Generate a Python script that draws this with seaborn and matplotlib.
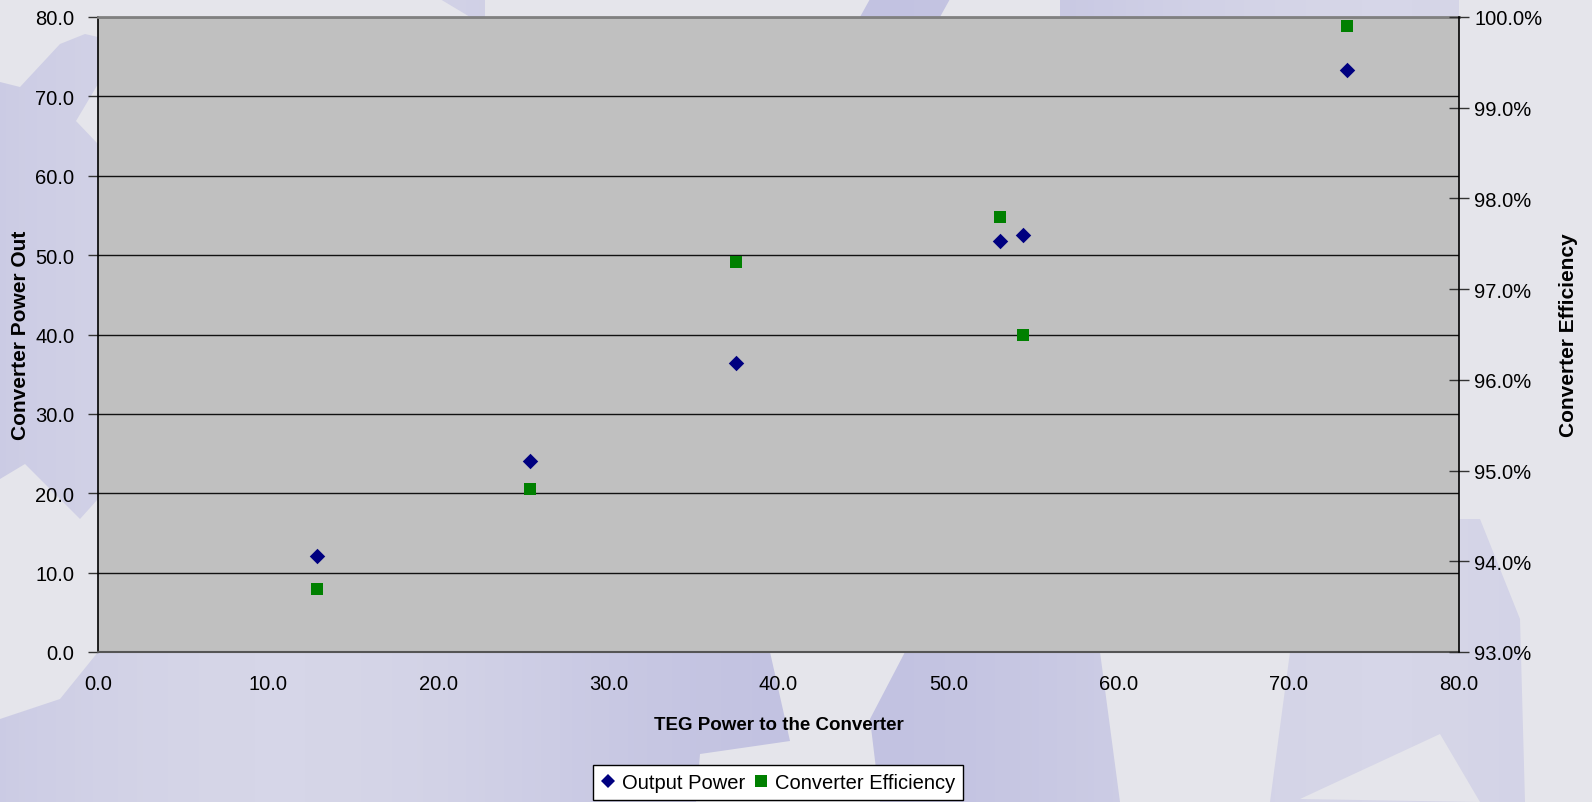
import matplotlib
matplotlib.use("Agg")
import matplotlib.pyplot as plt
import seaborn as sns
import numpy as np
from matplotlib.patches import Polygon
from matplotlib.lines import Line2D
from matplotlib.colors import LinearSegmentedColormap
from matplotlib.ticker import FuncFormatter, MultipleLocator

# Converter test points
teg_power_in = [12.9, 25.4, 37.5, 53.0, 54.4, 73.4]        # W into the converter
output_power = [12.1, 24.1, 36.4, 51.8, 52.5, 73.3]        # W out of the converter
efficiency_pct = [93.7, 94.8, 97.3, 97.8, 96.5, 99.9]      # converter efficiency, %

series_names = ["Output Power", "Converter Efficiency"]
x_label = "TEG Power to the Converter"
y_label_left = "Converter Power Out"
y_label_right = "Converter Efficiency"

NAVY = "#000080"
GREEN = "#008000"
PALE = "#e5e5eb"

sns.set_style("white")
plt.rcParams["font.family"] = ["Liberation Sans", "DejaVu Sans"]
plt.rcParams.update({"text.color": "black", "axes.labelcolor": "black",
                     "xtick.color": "black", "ytick.color": "black"})

W, H = 1592, 803
fig = plt.figure(figsize=(W / 100, H / 100), dpi=100)

# decorative slide backdrop
bg = fig.add_axes([0, 0, 1, 1], zorder=-10)
xx = np.linspace(0, 1, 256)
grad = np.outer(np.ones(64), 0.5 + 0.5 * np.sin(xx * 9.0))
cmap = LinearSegmentedColormap.from_list("bgc", ["#c2c2e1", "#d6d6e8"])
bg.imshow(grad, extent=[0, W, H, 0], aspect="auto", cmap=cmap, zorder=0)
pale_shapes = [
    [(0, 0), (98, 0), (98, 38), (85, 35), (60, 45), (20, 88), (0, 83)],
    [(76, 122), (98, 85), (98, 145)],
    [(0, 480), (25, 465), (80, 520), (98, 500), (98, 653), (60, 700), (0, 720)],
    [(98, 0), (440, 0), (470, 18), (98, 18)],
    [(485, 0), (870, 0), (860, 18), (485, 18)],
    [(950, 0), (1060, 0), (1060, 18), (940, 18)],
    [(720, 653), (770, 653), (790, 742), (700, 755), (696, 803), (880, 803), (870, 720), (905, 653)],
    [(1100, 653), (1290, 653), (1270, 803), (1120, 803)],
    [(1300, 800), (1440, 735), (1480, 803)],
    [(1459, 0), (1592, 0), (1592, 803), (1525, 803), (1520, 620), (1480, 520), (1459, 520)],
]
for pts in pale_shapes:
    bg.add_patch(Polygon(pts, closed=True, fc=PALE, ec="none", zorder=1))
bg.set_xlim(0, W)
bg.set_ylim(H, 0)
bg.axis("off")

# main plot area
ax = fig.add_axes([98 / W, 1 - 653 / H, (1459 - 98) / W, (653 - 18) / H])
ax.set_facecolor("#c0c0c0")
ax2 = ax.twinx()

sns.scatterplot(x=teg_power_in, y=output_power, ax=ax, marker="D", s=62,
                color=NAVY, edgecolor=NAVY, linewidth=0, zorder=4)
sns.scatterplot(x=teg_power_in, y=efficiency_pct, ax=ax2, marker="s", s=72,
                color=GREEN, edgecolor=GREEN, linewidth=0, zorder=4)

ax.set_xlim(0, 80)
ax.set_ylim(0, 80)
ax2.set_ylim(93, 100)
ax.xaxis.set_major_locator(MultipleLocator(10))
ax.yaxis.set_major_locator(MultipleLocator(10))
ax2.yaxis.set_major_locator(MultipleLocator(1))
ax.xaxis.set_major_formatter(FuncFormatter(lambda v, p: f"{v:.1f}"))
ax.yaxis.set_major_formatter(FuncFormatter(lambda v, p: f"{v:.1f}"))
ax2.yaxis.set_major_formatter(FuncFormatter(lambda v, p: f"{v:.1f}%"))

ax.grid(True, axis="y", color="#111111", linewidth=1.0)
ax.grid(False, axis="x")
ax.set_axisbelow(True)

ax.tick_params(axis="x", direction="out", length=7, width=1, color="#333333",
               labelsize=14.5, pad=9, labelcolor="black")
ax.tick_params(axis="y", direction="out", length=7, width=1, color="#333333",
               labelsize=14.5, pad=10, labelcolor="black")
ax2.tick_params(axis="y", direction="inout", length=14, width=1, color="#333333",
                labelsize=14.5, pad=4, labelcolor="black")

ax.spines["left"].set_visible(True)
ax.spines["left"].set_color("black")
ax.spines["left"].set_linewidth(1.2)
ax.spines["top"].set_visible(True)
ax.spines["top"].set_color("#808080")
ax.spines["top"].set_linewidth(2)
ax.spines["bottom"].set_visible(True)
ax.spines["bottom"].set_color("#555555")
ax.spines["bottom"].set_linewidth(1.5)
ax.spines["right"].set_visible(False)
for name in ("left", "top", "bottom"):
    ax2.spines[name].set_visible(False)
ax2.spines["right"].set_visible(True)
ax2.spines["right"].set_color("black")
ax2.spines["right"].set_linewidth(1.2)

ax.set_xlabel(x_label, fontsize=13.5, fontweight="bold")
ax.set_ylabel(y_label_left, fontsize=15, fontweight="bold")
ax2.set_ylabel(y_label_right, fontsize=15, fontweight="bold", rotation=90)
ax.xaxis.set_label_coords(0.5, (653 - 725) / 635, transform=ax.transAxes)
ax.yaxis.set_label_coords((21 - 98) / 1361, 0.5)
ax2.yaxis.set_label_coords((1568 - 98) / 1361, 0.5)
ax.xaxis.label.set_va("center")
ax.yaxis.label.set_va("center")
ax2.yaxis.label.set_va("center")

handles = [
    Line2D([], [], linestyle="none", marker="D", markersize=7.5, color=NAVY, markeredgewidth=0),
    Line2D([], [], linestyle="none", marker="s", markersize=8.5, color=GREEN, markeredgewidth=0),
]
leg = fig.legend(handles, series_names, loc="upper center", ncol=2,
                 bbox_to_anchor=(778 / W, 1 - 766 / H), fontsize=14.5,
                 frameon=True, fancybox=False, edgecolor="black", facecolor="white",
                 framealpha=1, handlelength=0.7, handletextpad=0.35,
                 columnspacing=0.45, borderpad=0.4, borderaxespad=0)
leg.get_frame().set_linewidth(1.0)

fig.savefig("out.png", dpi=100)
